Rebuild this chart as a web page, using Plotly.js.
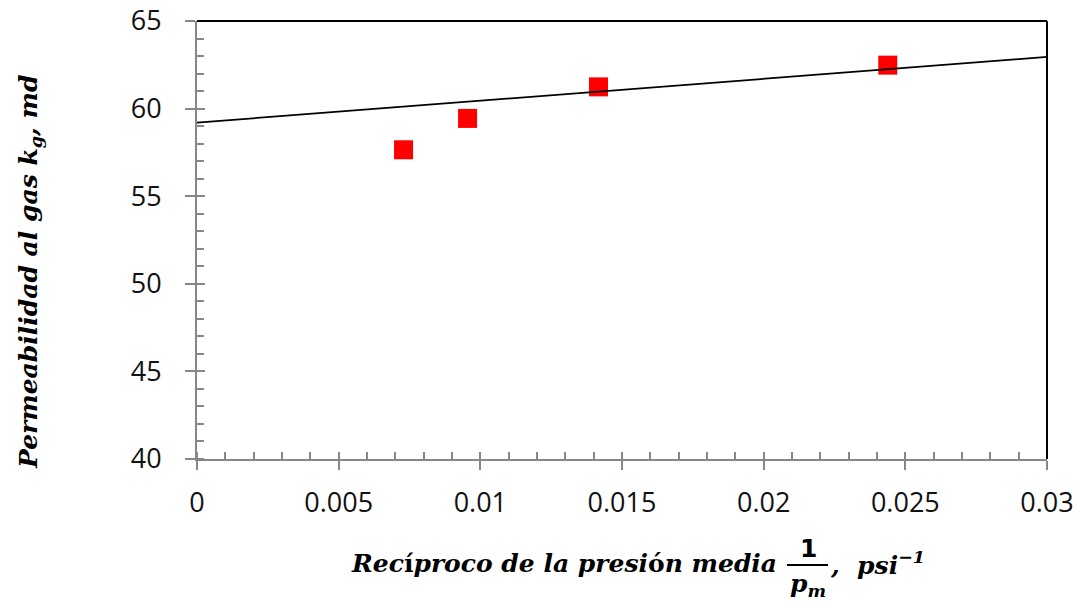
<!DOCTYPE html>
<html>
<head>
<meta charset="utf-8">
<script src="https://cdn.plot.ly/plotly-3.0.1.min.js"></script>
<style>html,body{margin:0;padding:0;background:#fff;}#chart{width:1080px;height:603px;}</style>
</head>
<body>
<div id="chart"></div>
<script>
// ---- data ----
const reciprocalPressure = [0.00729, 0.00955, 0.01417, 0.02438];
const gasPermeability = [57.65, 59.44, 61.24, 62.48];
const trendX = [0, 0.03];
const trendY = [59.2, 62.95];
const xTickValues = [0, 0.005, 0.01, 0.015, 0.02, 0.025, 0.03];
const xTickLabels = ['0', '0.005', '0.01', '0.015', '0.02', '0.025', '0.03'];
const yTickValues = [40, 45, 50, 55, 60, 65];
const yTickLabels = ['40', '45', '50', '55', '60', '65'];

// ---- layout helpers ----
const L = 197, R = 1047, T = 21, B = 459;
const px = x => (x - L) / (R - L);
const py = y => (B - y) / (B - T);

const axisGrey = '#878787';
const tickFont = {family: 'Open Sans, sans-serif', size: 27, color: '#111111'};
const titleFont = {family: 'DejaVu Serif, serif', size: 25, color: '#000000'};

const traces = [
  {
    x: reciprocalPressure, y: gasPermeability,
    type: 'scatter', mode: 'markers', xaxis: 'x', yaxis: 'y',
    marker: {symbol: 'square', size: 19, color: '#ff0000', line: {width: 0}},
    hoverinfo: 'x+y', showlegend: false
  },
  {
    x: trendX, y: trendY,
    type: 'scatter', mode: 'lines', xaxis: 'x2', yaxis: 'y2',
    line: {color: '#000000', width: 1.8},
    hoverinfo: 'skip', showlegend: false
  }
];

const layout = {
  width: 1080, height: 603,
  margin: {l: L, r: 1080 - R, t: T, b: 603 - B, pad: 0},
  paper_bgcolor: '#ffffff', plot_bgcolor: '#ffffff',
  showlegend: false,
  xaxis: {
    range: [0, 0.03], tickmode: 'array', tickvals: xTickValues, ticktext: xTickLabels,
    showgrid: false, zeroline: false,
    showline: true, linecolor: axisGrey, linewidth: 2,
    ticks: 'outside', ticklen: 9, tickwidth: 2, tickcolor: axisGrey,
    ticklabelstandoff: 10,
    tickfont: tickFont,
    minor: {tickmode: 'linear', tick0: 0, dtick: 0.001, ticks: 'inside', ticklen: 7, tickwidth: 2, tickcolor: axisGrey, showgrid: false}
  },
  yaxis: {
    range: [40, 65], tickmode: 'array', tickvals: yTickValues, ticktext: yTickLabels,
    showgrid: false, zeroline: false,
    showline: true, linecolor: axisGrey, linewidth: 2,
    ticks: 'outside', ticklen: 10, tickwidth: 2, tickcolor: axisGrey,
    ticklabelstandoff: 18,
    tickfont: tickFont,
    minor: {tickmode: 'linear', tick0: 40, dtick: 1, ticks: 'inside', ticklen: 7, tickwidth: 2, tickcolor: axisGrey, showgrid: false}
  },
  xaxis2: {
    overlaying: 'x', matches: 'x', anchor: 'y2', range: [0, 0.03],
    tickmode: 'array', tickvals: xTickValues, showticklabels: false,
    ticks: 'inside', ticklen: 7, tickwidth: 2, tickcolor: axisGrey,
    showgrid: false, zeroline: false, showline: false
  },
  yaxis2: {
    overlaying: 'y', matches: 'y', anchor: 'x2', range: [40, 65],
    tickmode: 'array', tickvals: yTickValues, showticklabels: false,
    ticks: 'inside', ticklen: 8, tickwidth: 2, tickcolor: axisGrey,
    showgrid: false, zeroline: false, showline: false
  },
  shapes: [
    {type: 'line', xref: 'paper', yref: 'paper', x0: 0, x1: 1, y0: 1, y1: 1, line: {color: '#000000', width: 2}},
    {type: 'line', xref: 'paper', yref: 'paper', x0: 1, x1: 1, y0: 0, y1: 1, line: {color: '#000000', width: 2}},
    {type: 'line', xref: 'paper', yref: 'paper', x0: px(787), x1: px(828), y0: py(565), y1: py(565), line: {color: '#000000', width: 2}}
  ],
  annotations: [
    {
      xref: 'paper', yref: 'paper', x: px(30), y: py(272), xanchor: 'center', yanchor: 'middle',
      textangle: -90, showarrow: false, font: titleFont,
      text: '<b><i>Permeabilidad al gas k<sub>g</sub>, md</i></b>'
    },
    {
      xref: 'paper', yref: 'paper', x: px(779), y: py(563), xanchor: 'right', yanchor: 'middle',
      showarrow: false, font: titleFont,
      text: '<b><i>Rec</i>í<i>proco de la presi</i>ó<i>n media</i></b>'
    },
    {
      xref: 'paper', yref: 'paper', x: px(808), y: py(548), xanchor: 'center', yanchor: 'middle',
      showarrow: false, font: {family: 'DejaVu Sans, sans-serif', size: 25, color: '#000000'},
      text: '<b>1</b>'
    },
    {
      xref: 'paper', yref: 'paper', x: px(808), y: py(585), xanchor: 'center', yanchor: 'middle',
      showarrow: false, font: titleFont,
      text: '<b><i>p<sub>m</sub></i></b>'
    },
    {
      xref: 'paper', yref: 'paper', x: px(828), y: py(563), xanchor: 'left', yanchor: 'middle',
      showarrow: false, font: titleFont,
      text: '<b><i>,  psi<sup>−1</sup></i></b>'
    }
  ]
};

Plotly.newPlot('chart', traces, layout, {displayModeBar: false, staticPlot: true});
</script>
</body>
</html>
